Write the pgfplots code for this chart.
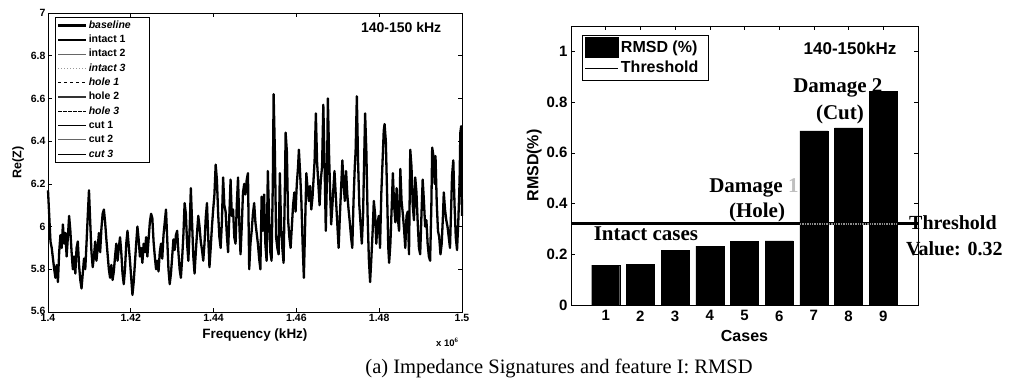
\documentclass[border=0pt]{standalone}
\usepackage{pgfplots}
\pgfplotsset{compat=1.18}
\usepackage{pgfplotstable}
\usepackage{fontspec}
\setmainfont{Liberation Serif}
\setsansfont{Liberation Sans}

\pgfplotstableread{
x y
1400.0 6.17
1400.3 6.05
1400.6 5.93
1400.9 5.90
1401.2 5.85
1401.5 5.80
1401.8 5.76
1402.1 5.82
1402.4 5.74
1402.7 5.88
1403.0 5.96
1403.3 5.90
1403.6 6.01
1403.9 5.92
1404.2 5.97
1404.5 5.86
1404.8 5.95
1405.1 6.05
1405.4 5.98
1405.7 5.88
1406.0 5.80
1406.3 5.86
1406.6 5.78
1406.9 5.90
1407.2 5.93
1407.5 5.82
1407.8 5.75
1408.1 5.71
1408.4 5.78
1408.7 5.85
1409.0 5.80
1409.3 5.92
1409.6 6.05
1409.9 6.17
1410.2 6.02
1410.5 5.88
1410.8 5.81
1411.1 5.86
1411.4 5.93
1411.7 5.84
1412.0 5.90
1412.3 5.97
1412.6 5.88
1412.9 5.99
1413.2 6.06
1413.5 6.08
1413.8 6.02
1414.1 5.94
1414.4 5.87
1414.7 5.80
1415.0 5.76
1415.3 5.82
1415.6 5.75
1415.9 5.79
1416.2 5.86
1416.5 5.92
1416.8 5.84
1417.1 5.90
1417.4 5.95
1417.7 5.88
1418.0 5.78
1418.3 5.73
1418.6 5.80
1418.9 5.92
1419.2 5.98
1419.5 5.91
1419.8 5.84
1420.1 5.76
1420.4 5.68
1420.7 5.74
1421.0 5.83
1421.3 5.92
1421.6 6.00
1421.9 5.94
1422.2 5.86
1422.5 5.90
1422.8 5.83
1423.1 5.92
1423.4 5.88
1423.7 5.95
1424.0 5.86
1424.3 5.94
1424.6 6.02
1424.9 6.06
1425.2 6.04
1425.5 5.93
1425.8 5.86
1426.1 5.80
1426.4 5.84
1426.7 5.79
1427.0 5.88
1427.3 5.92
1427.6 5.85
1427.9 5.96
1428.2 6.02
1428.5 6.08
1428.8 5.94
1429.1 5.80
1429.4 5.73
1429.7 5.78
1430.0 5.86
1430.3 5.94
1430.6 5.89
1430.9 5.96
1431.2 5.98
1431.5 5.88
1431.8 5.80
1432.1 5.76
1432.4 5.85
1432.7 5.96
1433.0 6.11
1433.3 6.06
1433.6 5.92
1433.9 5.84
1434.2 5.98
1434.5 6.18
1434.8 6.02
1435.1 5.86
1435.4 5.78
1435.7 5.88
1436.0 5.97
1436.3 6.05
1436.6 6.00
1436.9 5.93
1437.2 5.89
1437.5 5.84
1437.8 5.92
1438.1 6.04
1438.4 6.11
1438.7 5.95
1439.0 5.81
1439.3 5.90
1439.6 6.00
1439.9 6.08
1440.2 6.15
1440.5 6.29
1440.8 6.22
1441.1 6.06
1441.4 5.95
1441.7 5.90
1442.0 6.02
1442.3 6.23
1442.6 6.10
1442.9 6.07
1443.2 5.96
1443.5 5.88
1443.8 6.05
1444.1 6.22
1444.4 6.05
1444.7 6.08
1445.0 5.95
1445.3 5.92
1445.6 6.10
1445.9 6.23
1446.2 6.02
1446.5 5.87
1446.8 6.00
1447.1 6.16
1447.4 6.20
1447.7 6.15
1448.0 6.22
1448.3 6.25
1448.6 5.80
1448.9 5.92
1449.2 5.98
1449.5 6.06
1449.8 6.11
1450.1 6.02
1450.4 5.97
1450.7 5.92
1451.0 5.85
1451.3 5.80
1451.6 6.14
1451.9 5.98
1452.2 6.15
1452.5 5.92
1452.8 5.84
1453.1 6.26
1453.4 6.05
1453.7 5.88
1454.0 5.84
1454.3 6.20
1454.5 6.62
1454.8 6.35
1455.1 5.95
1455.4 5.90
1455.7 5.87
1456.0 6.25
1456.3 6.00
1456.6 5.90
1456.9 5.83
1457.2 6.15
1457.4 6.44
1457.7 6.35
1458.0 6.03
1458.3 5.95
1458.6 5.90
1458.9 6.00
1459.2 6.10
1459.5 6.16
1459.8 6.07
1460.1 6.20
1460.4 6.28
1460.6 6.36
1460.9 6.25
1461.2 6.12
1461.5 5.92
1461.8 5.76
1462.1 6.00
1462.4 6.25
1462.7 6.18
1463.0 6.12
1463.3 6.19
1463.6 6.08
1463.9 6.14
1464.2 6.24
1464.4 6.31
1464.7 6.53
1465.0 6.30
1465.3 6.20
1465.6 6.10
1465.9 6.22
1466.2 6.28
1466.5 6.57
1466.8 6.30
1467.1 5.98
1467.4 6.25
1467.6 6.60
1467.9 6.33
1468.2 6.13
1468.4 6.01
1468.7 6.10
1469.0 6.20
1469.2 6.26
1469.5 6.15
1469.8 6.04
1470.2 5.90
1470.5 6.05
1470.8 6.18
1471.1 6.31
1471.4 6.20
1471.7 6.12
1472.0 6.26
1472.3 6.15
1472.6 6.08
1472.9 6.02
1473.2 5.95
1473.5 5.90
1473.8 6.12
1474.1 6.28
1474.3 6.35
1474.6 6.61
1474.9 6.30
1475.2 6.10
1475.5 6.01
1475.8 5.92
1476.1 6.05
1476.3 6.25
1476.6 6.53
1476.9 6.35
1477.2 6.05
1477.5 5.85
1477.8 5.74
1478.1 5.85
1478.4 5.97
1478.7 6.12
1479.0 6.06
1479.3 5.92
1479.6 6.02
1479.9 6.05
1480.2 5.90
1480.5 6.15
1480.8 6.30
1481.1 6.45
1481.3 6.48
1481.6 6.40
1481.9 6.16
1482.2 5.90
1482.4 5.83
1482.7 5.92
1483.0 6.08
1483.3 6.25
1483.6 6.10
1483.9 6.02
1484.2 6.18
1484.5 6.04
1484.8 5.98
1485.1 6.27
1485.4 6.12
1485.7 6.06
1486.0 5.99
1486.3 5.90
1486.6 6.05
1486.9 6.07
1487.2 5.87
1487.5 6.36
1487.8 6.28
1488.1 6.10
1488.4 6.03
1488.7 6.23
1489.0 6.16
1489.3 6.02
1489.6 5.90
1489.9 5.87
1490.2 6.05
1490.5 6.22
1490.8 6.12
1491.1 6.00
1491.4 6.03
1491.7 5.92
1492.0 5.86
1492.3 5.84
1492.6 6.10
1492.8 6.37
1493.1 6.33
1493.4 6.20
1493.6 6.33
1493.9 6.11
1494.2 5.98
1494.5 5.95
1494.8 5.87
1495.1 5.92
1495.4 6.05
1495.6 6.16
1495.9 6.08
1496.2 6.03
1496.5 6.00
1496.8 5.95
1497.1 5.90
1497.4 6.10
1497.6 6.24
1497.9 6.31
1498.2 6.10
1498.5 5.95
1498.8 5.89
1499.1 6.02
1499.4 6.20
1499.6 6.44
1499.8 6.47
1500.0 6.05
}\sig

\begin{document}
\begin{tikzpicture}
\useasboundingbox (0,0) rectangle (1010pt,382pt);
% ---------------- left: impedance signatures
\begin{axis}[
  at={(48pt,70pt)}, anchor=south west,
  scale only axis, width=414pt, height=299pt,
  xmin=1400, xmax=1500, ymin=5.6, ymax=7,
  xtick={1400,1420,1440,1460,1480,1500},
  xticklabels={1.4,1.42,1.44,1.46,1.48,1.5},
  ytick={5.6,5.8,6,6.2,6.4,6.6,6.8,7},
  yticklabels={\raisebox{3pt}{5.6},5.8,6,6.2,6.4,6.6,6.8,7},
  tick align=inside, xtick pos=both, ytick pos=both,
  major tick length=4pt,
  axis line style={line width=0.6pt},
  tick style={line width=0.6pt, black},
  tick label style={font=\sffamily\bfseries\fontsize{10.5}{11}\selectfont},
  xticklabel style={yshift=1pt},
  yticklabel style={xshift=1pt},
  xlabel={Frequency (kHz)}, ylabel={Re(Z)},
  xlabel style={font=\sffamily\bfseries\fontsize{13.5}{14}\selectfont, yshift=0pt},
  ylabel style={font=\sffamily\bfseries\fontsize{12.5}{13}\selectfont, yshift=0pt},
  legend style={at={(0.017,0.987)}, anchor=north west, draw=black, line width=0.5pt,
    font=\sffamily\bfseries\fontsize{10.5}{11}\selectfont,
    nodes={inner sep=1.2pt, text height=8pt, text depth=2.5pt}, row sep=1.4pt, inner sep=2pt},
  legend cell align=left,
  legend image code/.code={\draw[#1] (0pt,0pt) -- (28pt,0pt);},
  clip=false,
]
\addplot[black, line width=2.3pt, line join=round] table[x=x,y=y] {\sig};
\addlegendentry{\textit{baseline}\hspace*{15pt}}
\addlegendimage{black, line width=2pt}
\addlegendentry{intact 1}
\addlegendimage{black!60, line width=1.2pt}
\addlegendentry{intact 2}
\addlegendimage{black!40, line width=1pt, dotted}
\addlegendentry{\textit{intact 3}}
\addlegendimage{black, line width=0.9pt, dashed}
\addlegendentry{\textit{hole 1}}
\addlegendimage{black!80, line width=1.2pt}
\addlegendentry{hole 2}
\addlegendimage{black, line width=1pt, dash pattern=on 4pt off 1pt}
\addlegendentry{\textit{hole 3}}
\addlegendimage{black, line width=0.8pt}
\addlegendentry{cut 1}
\addlegendimage{black!60, line width=1pt}
\addlegendentry{cut 2}
\addlegendimage{black, line width=0.8pt}
\addlegendentry{\textit{cut 3}}
\node[font=\sffamily\bfseries\fontsize{14}{15}\selectfont] at (rel axis cs:0.853,0.953) {140-150 kHz};
\node[font=\sffamily\bfseries\fontsize{9.5}{10}\selectfont, anchor=north east] at (rel axis cs:1.0,0) [yshift=-23pt] {x 10$^{\mathbf{6}}$};
\end{axis}
% ---------------- right: RMSD bars
\begin{axis}[
  at={(571pt,77pt)}, anchor=south west,
  scale only axis, width=347pt, height=279pt,
  xmin=0, xmax=10, ymin=0, ymax=1.1,
  xtick={1,2,3,4,5,6,7,8,9},
  xticklabels={1,2,3,4,5,6,7,8,9},
  ytick={0,0.2,0.4,0.6,0.8,1},
  yticklabels={0,0.2,0.4,0.6,0.8,1},
  tick align=inside, xtick pos=both, ytick pos=both,
  major tick length=4pt,
  axis line style={line width=0.6pt},
  tick style={line width=0.6pt, black},
  tick label style={font=\sffamily\bfseries\fontsize{15}{16}\selectfont},
  xticklabel style={yshift=-2pt},
  xlabel={Cases}, ylabel={RMSD(\%)},
  xlabel style={font=\sffamily\bfseries\fontsize{16}{17}\selectfont, yshift=-2pt},
  ylabel style={font=\sffamily\bfseries\fontsize{16}{17}\selectfont, yshift=-2pt},
  legend style={at={(0.032,0.968)}, anchor=north west, draw=black, line width=0.5pt,
    font=\sffamily\bfseries\fontsize{16}{17}\selectfont,
    nodes={inner sep=2pt, text height=12pt, text depth=4pt}, row sep=0pt, inner sep=2pt},
  legend cell align=left,
  clip=false,
]
\addplot[ybar, bar width=28pt, fill=black, draw=black,
  legend image code/.code={\fill[black] (0pt,-9pt) rectangle (33pt,11pt);}]
  coordinates {(1,0.157) (2,0.161) (3,0.216) (4,0.232) (5,0.252) (6,0.253) (7,0.686) (8,0.698) (9,0.841)};
\addlegendentry{RMSD (\%)}
\addplot[black, line width=3.2pt,
  legend image code/.code={\draw[black, line width=1.6pt] (0pt,0pt) -- (33pt,0pt);}]
  coordinates {(0,0.32) (10,0.32)};
\addlegendentry{Threshold\hspace*{6pt}}
\addplot[black!45, line width=1.4pt, densely dotted, forget plot]
  coordinates {(6.6,0.32) (9.4,0.32)};
\node[font=\sffamily\bfseries\fontsize{17}{18}\selectfont] at (axis cs:8.04,1.013) {140-150kHz};
\node[font=\bfseries\fontsize{21}{22}\selectfont, anchor=base] at (axis cs:2.16,0.256) {Intact cases};
\node[font=\bfseries\fontsize{21}{22}\selectfont, anchor=base west, inner sep=0pt] at (axis cs:3.98,0.442) {Damage \textcolor{black!25}{1}};
\node[font=\bfseries\fontsize{21}{22}\selectfont, anchor=base, inner sep=0pt] at (axis cs:5.36,0.343) {(Hole)};
\node[font=\bfseries\fontsize{21}{22}\selectfont, anchor=base west, inner sep=0pt] at (axis cs:6.40,0.836) {Damage 2};
\node[font=\bfseries\fontsize{21}{22}\selectfont, anchor=base, inner sep=0pt] at (axis cs:7.75,0.733) {(Cut)};
\node[font=\bfseries\fontsize{20}{21}\selectfont, anchor=base west, inner sep=0pt] at (axis cs:9.74,0.296) {Threshold};
\node[font=\bfseries\fontsize{20}{21}\selectfont, anchor=base west, inner sep=0pt] at (axis cs:9.65,0.197) {Value: 0.32};
\end{axis}
\node[font=\fontsize{20.5}{22}\selectfont, anchor=base] at (559pt,8pt) {(a) Impedance Signatures and feature I: RMSD};
\end{tikzpicture}
\end{document}
